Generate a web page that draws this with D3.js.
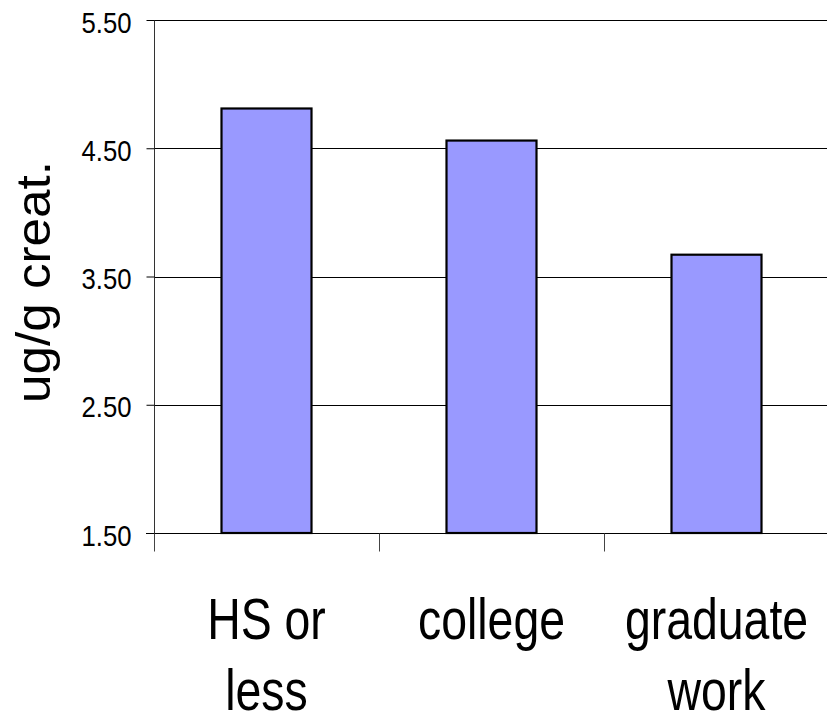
<!DOCTYPE html>
<html>
<head>
<meta charset="utf-8">
<script src="https://cdn.jsdelivr.net/npm/d3@7"></script>
<style>
  html, body { margin: 0; padding: 0; background: #fff; }
  text { font-family: "Liberation Sans", Arial, sans-serif; fill: #000; }
</style>
</head>
<body>
<svg id="chart" width="827" height="718"></svg>
<script>
// Creatinine-adjusted concentration by education level
const categories = ["HS or less", "college", "graduate work"];
const categoryLines = [["HS or", "less"], ["college"], ["graduate", "work"]];
const values = [4.81, 4.56, 3.67];
const yTicks = [1.5, 2.5, 3.5, 4.5, 5.5];
const yTitle = "ug/g creat.";

const svg = d3.select("#chart");
const plot = { left: 154, right: 829, top: 20, bottom: 533 };

const x = d3.scaleBand().domain(categories).range([plot.left, plot.right]).padding(0);
const y = d3.scaleLinear().domain([1.5, 5.5]).range([plot.bottom, plot.top]);

// horizontal gridlines
svg.append("g").selectAll("line").data(yTicks).join("line")
  .attr("x1", plot.left).attr("x2", 827)
  .attr("y1", d => Math.round(y(d)) + 0.5).attr("y2", d => Math.round(y(d)) + 0.5)
  .attr("stroke", "#000").attr("stroke-width", 1);

// bars
const barFrac = 0.4;
svg.append("g").selectAll("rect").data(values).join("rect")
  .attr("x", (d, i) => x(categories[i]) + x.bandwidth() * (1 - barFrac) / 2)
  .attr("width", x.bandwidth() * barFrac)
  .attr("y", d => y(d))
  .attr("height", d => y(1.5) - y(d))
  .attr("fill", "#9999ff")
  .attr("stroke", "#000")
  .attr("stroke-width", 2.2);

// y axis
const yAxis = d3.axisLeft(y).tickValues(yTicks).tickFormat(d3.format(".2f")).tickSize(8).tickPadding(0);
const gy = svg.append("g").attr("transform", `translate(${plot.left + 0.5},0)`).call(yAxis);
gy.select(".domain").attr("d", `M0,${plot.top}V${plot.bottom}`).attr("stroke", "#333");
gy.selectAll(".tick line").attr("stroke", "#000");
gy.selectAll(".tick text")
  .attr("x", -23).attr("dy", null).attr("y", 12)
  .style("font-size", "30px")
  .attr("textLength", 50).attr("lengthAdjust", "spacingAndGlyphs");

// x axis
const xAxis = d3.axisBottom(x).tickSize(18).tickFormat("");
const gx = svg.append("g").attr("transform", `translate(0,${plot.bottom + 0.5})`).call(xAxis);
gx.select(".domain").attr("d", `M${plot.left - 8},0H827`).attr("stroke", "#000");
// ticks sit on band boundaries
gx.selectAll(".tick").attr("transform", (d) => `translate(${Math.round(x(d)) + 0.5},0)`);
gx.selectAll(".tick line").attr("stroke", "#444");

// category labels, two lines each
const labelScale = 0.8;
categories.forEach((c, i) => {
  const cx = x(c) + x.bandwidth() / 2;
  categoryLines[i].forEach((line, j) => {
    svg.append("text")
      .attr("transform", `translate(${cx},${639 + j * 71}) scale(${labelScale},1)`)
      .attr("text-anchor", "middle")
      .style("font-size", "58px")
      .text(line);
  });
});

// y axis title
svg.append("text")
  .attr("transform", "translate(50,403) rotate(-90)")
  .attr("text-anchor", "start")
  .style("font-size", "48px")
  .attr("textLength", 242).attr("lengthAdjust", "spacingAndGlyphs")
  .text(yTitle);
</script>
</body>
</html>
